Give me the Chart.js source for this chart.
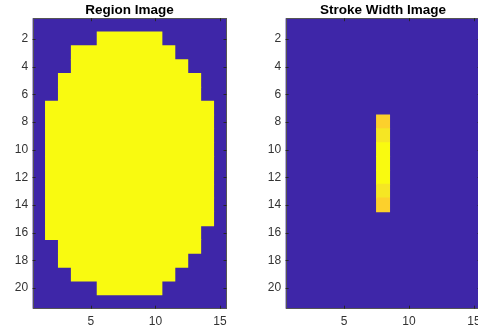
<!DOCTYPE html>
<html>
<head>
<meta charset="utf-8">
<script src="https://cdn.jsdelivr.net/npm/chart.js@4.4.1/dist/chart.umd.min.js"></script>
<style>
  html, body { margin: 0; padding: 0; background: #fff; overflow: hidden; }
  body { width: 478px; height: 329px; position: relative; }
  canvas { position: absolute; top: 0; }
  #region { left: 0; }
  #stroke { left: 253px; }
</style>
</head>
<body>
<canvas id="region" width="240" height="329"></canvas>
<canvas id="stroke" width="241" height="329"></canvas>
<script>
// image grid: 15 columns x 21 rows
const colTicks = [5, 10, 15];
const rowTicks = [2, 4, 6, 8, 10, 12, 14, 16, 18, 20];

// region image: yellow span per row (first and last column)
const regionRows  = [2, 3, 4, 5, 6, 7, 8, 9, 10, 11, 12, 13, 14, 15, 16, 17, 18, 19, 20];
const regionStart = [6, 4, 4, 3, 3, 2, 2, 2, 2, 2, 2, 2, 2, 2, 2, 3, 3, 4, 6];
const regionEnd   = [10, 11, 12, 13, 13, 14, 14, 14, 14, 14, 14, 14, 14, 14, 13, 13, 12, 11, 10];

// stroke width image: one column, values per row
const strokeCol = 8;
const strokeRows = [8, 9, 10, 11, 12, 13, 14];
const strokeValues = [13, 14, 15, 15, 15, 14, 13];
const strokeMax = 15;

const BLUE = '#3e26a8';
const FONT = "'Liberation Sans', Arial, Helvetica, sans-serif";

// rough parula top end
const cmapStops = [
  [0, [62, 38, 168]],
  [0.5, [22, 185, 165]],
  [0.867, [252, 208, 44]],
  [0.933, [245, 230, 36]],
  [1, [249, 250, 16]],
];
function cmap(t) {
  for (let i = 1; i < cmapStops.length; i++) {
    const [t1, c1] = cmapStops[i];
    const [t0, c0] = cmapStops[i - 1];
    if (t <= t1) {
      const f = (t - t0) / (t1 - t0);
      const c = c0.map((v, k) => Math.round(v + (c1[k] - v) * f));
      return `rgb(${c[0]},${c[1]},${c[2]})`;
    }
  }
  return 'rgb(249,250,16)';
}

// blue image background + box + inward ticks (matlab style)
const imageFrame = {
  id: 'imageFrame',
  beforeDatasetsDraw(chart) {
    const { ctx, chartArea: a } = chart;
    ctx.save();
    ctx.fillStyle = BLUE;
    ctx.fillRect(a.left, a.top, a.right - a.left, a.bottom - a.top);
    ctx.restore();
  },
  afterDatasetsDraw(chart) {
    const { ctx, chartArea: a, scales } = chart;
    ctx.save();
    ctx.strokeStyle = '#555';
    ctx.lineWidth = 1;
    ctx.strokeRect(Math.round(a.left) + 0.5, Math.round(a.top) + 0.5,
      Math.round(a.right - a.left) - 1, Math.round(a.bottom - a.top) - 1);
    ctx.strokeStyle = '#262626';
    ctx.beginPath();
    const len = 3;
    colTicks.forEach(v => {
      const x = Math.round(scales.x.getPixelForValue(v)) + 0.5;
      ctx.moveTo(x, a.top); ctx.lineTo(x, a.top + len);
      ctx.moveTo(x, a.bottom); ctx.lineTo(x, a.bottom - len);
    });
    rowTicks.forEach(v => {
      const y = Math.round(scales.y.getPixelForValue(v)) + 0.5;
      ctx.moveTo(a.left, y); ctx.lineTo(a.left + len, y);
      ctx.moveTo(a.right, y); ctx.lineTo(a.right - len, y);
    });
    ctx.stroke();
    ctx.restore();
  }
};

function makeImageChart(canvas, title, datasets) {
  return new Chart(canvas.getContext('2d'), {
    type: 'bar',
    data: { datasets },
    options: {
      indexAxis: 'y',
      responsive: false,
      animation: false,
      devicePixelRatio: 1,
      layout: { padding: { left: 0, right: 13.5, top: 0, bottom: 0 } },
      plugins: {
        legend: { display: false },
        tooltip: { enabled: false },
        title: {
          display: true,
          text: title,
          fullSize: false,
          color: '#000',
          font: { family: FONT, size: 13.5, weight: 'bold', lineHeight: 1.2 },
          padding: { top: 2, bottom: 0 },
        },
      },
      scales: {
        x: {
          type: 'linear',
          min: 0.5,
          max: 15.5,
          afterBuildTicks: s => { s.ticks = colTicks.map(v => ({ value: v })); },
          afterFit: s => { s.height = 20.3; },
          grid: { display: false, drawTicks: false },
          border: { display: false },
          ticks: { color: '#333', padding: 6, maxRotation: 0, font: { family: FONT, size: 12 } },
        },
        y: {
          type: 'linear',
          reverse: true,
          offset: false,
          min: 0.5,
          max: 21.5,
          afterBuildTicks: s => { s.ticks = rowTicks.map(v => ({ value: v })); },
          afterFit: s => { s.width = 32.6; },
          grid: { display: false, drawTicks: false, offset: false },
          border: { display: false },
          ticks: { color: '#333', padding: 4.5, font: { family: FONT, size: 12 } },
        },
      },
    },
    plugins: [imageFrame],
  });
}

makeImageChart(document.getElementById('region'), 'Region Image', [{
  data: regionRows.map((r, i) => ({ y: r, x: [regionStart[i] - 0.5, regionEnd[i] + 0.5] })),
  backgroundColor: cmap(1),
  barPercentage: 1,
  categoryPercentage: 1,
  borderWidth: 0,
  inflateAmount: 0.5,
}]);

makeImageChart(document.getElementById('stroke'), 'Stroke Width Image', [{
  data: strokeRows.map(r => ({ y: r, x: [strokeCol - 0.5, strokeCol + 0.5] })),
  backgroundColor: strokeValues.map(v => cmap(v / strokeMax)),
  borderWidth: 0,
  barPercentage: 1,
  categoryPercentage: 1,
  inflateAmount: 0.5,
}]);
</script>
</body>
</html>
